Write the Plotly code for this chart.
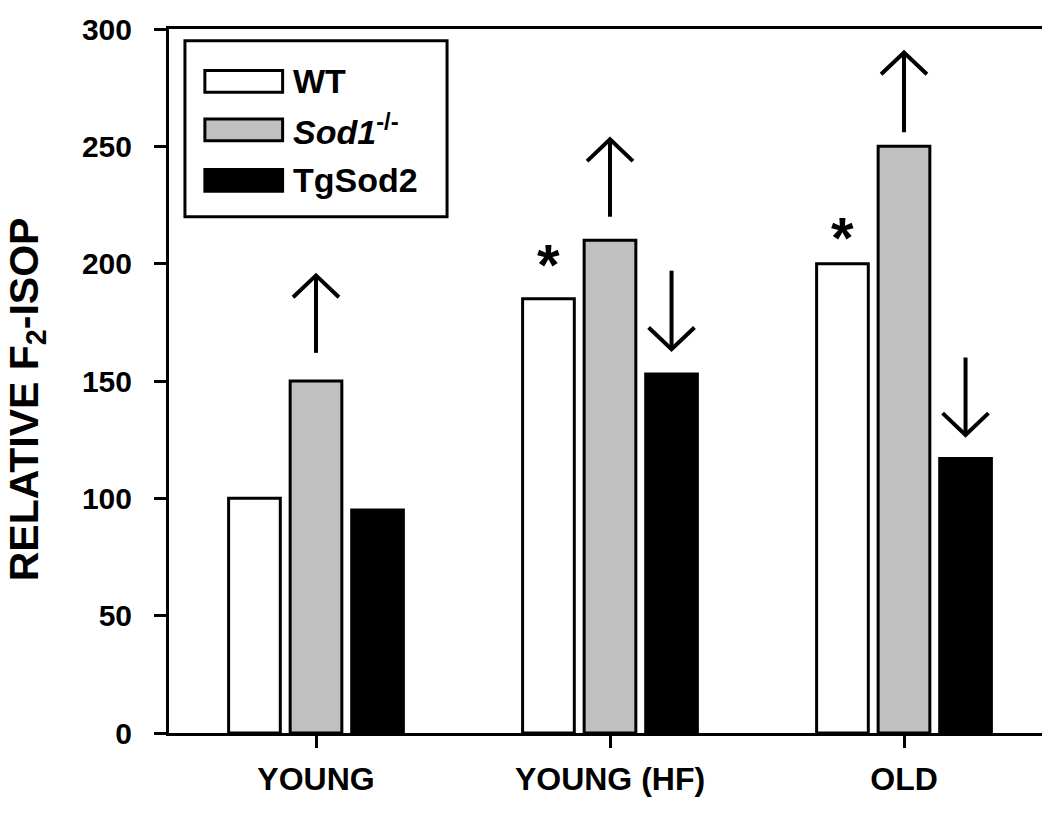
import plotly.graph_objects as go

# ---------------- data ----------------
categories = ["YOUNG", "YOUNG (HF)", "OLD"]
wt = [100, 185, 200]
sod1 = [150, 210, 250]
tgsod2 = [95, 153, 117]
y_ticks = [0, 50, 100, 150, 200, 250, 300]
series_names = ["WT", "<i>Sod1</i><sup>-/-</sup>", "TgSod2"]

# significance stars above WT bars (category index, y value)
star_cat = [1, 2]
star_y = [199.5, 211]

# arrows: up arrows above Sod1 bars, down arrows above TgSod2 bars
up_cat = [0, 1, 2]
up_from = [162, 220, 256]
up_to = [195, 253, 290]
down_cat = [1, 2]
down_from = [197, 160]
down_to = [163.5, 127]

# ---------------- styling ----------------
FONT = "Liberation Sans, Arial, sans-serif"
fills = ["#ffffff", "#c0c0c0", "#000000"]
BARGAP = 0.372
slot = (1 - BARGAP) / 3
offsets = [-slot, 0, slot]
x_idx = list(range(len(categories)))

fig = go.Figure()
for name, vals, fill in zip(series_names, [wt, sod1, tgsod2], fills):
    fig.add_trace(go.Bar(
        x=x_idx, y=vals, name=name,
        marker=dict(color=fill, line=dict(color="black", width=3)),
        showlegend=False,
    ))

shapes = []
AW = 0.078   # arrow head half width (category units)
AH = 9.3     # arrow head height (y units)
LW = 4


def arrow(xc, y0, y1):
    d = 1 if y1 > y0 else -1
    shapes.append(dict(type="line", x0=xc, x1=xc, y0=y0, y1=y1,
                       line=dict(color="black", width=LW)))
    shapes.append(dict(type="path",
                       path=f"M {xc-AW},{y1-d*AH} L {xc},{y1} L {xc+AW},{y1-d*AH}",
                       line=dict(color="black", width=LW)))


for c, a, b in zip(up_cat, up_from, up_to):
    arrow(c + offsets[1], a, b)
for c, a, b in zip(down_cat, down_from, down_to):
    arrow(c + offsets[2], a, b)

annotations = []
for c, yv in zip(star_cat, star_y):
    annotations.append(dict(x=c + offsets[0], y=yv, xref="x", yref="y",
                            text="<b>*</b>", showarrow=False,
                            font=dict(family=FONT, size=58, color="black"),
                            xanchor="center", yanchor="middle"))

# ---------------- custom legend (paper coords) ----------------
PL, PW, PB, PH = 161, 885, 725, 712


def px_x(p):
    return (p - PL) / PW


def px_y(p):
    return (PB - p) / PH


shapes.append(dict(type="rect", xref="paper", yref="paper",
                   x0=px_x(177), x1=px_x(440), y0=px_y(203), y1=px_y(25),
                   line=dict(color="black", width=3), fillcolor="white"))
row_centers = [66, 115, 166]
for name, fill, rc in zip(series_names, fills, row_centers):
    shapes.append(dict(type="rect", xref="paper", yref="paper",
                       x0=px_x(197), x1=px_x(275), y0=px_y(rc + 11), y1=px_y(rc - 11),
                       line=dict(color="black", width=3), fillcolor=fill))
    annotations.append(dict(x=px_x(283), y=px_y(rc), xref="paper", yref="paper",
                            text=f"<b>{name}</b>", showarrow=False,
                            font=dict(family=FONT, size=34, color="black"),
                            xanchor="left", yanchor="middle"))

# y-axis title
annotations.append(dict(x=px_x(18), y=px_y(387), xref="paper", yref="paper",
                        text="<b>RELATIVE F<sub>2</sub>-ISOP</b>", showarrow=False,
                        textangle=-90,
                        font=dict(family=FONT, size=41, color="black"),
                        xanchor="center", yanchor="middle"))

fig.update_layout(
    width=1050, height=832,
    margin=dict(l=161, r=4, t=13, b=107),
    paper_bgcolor="white", plot_bgcolor="white",
    barmode="group", bargap=BARGAP, bargroupgap=0.16,
    shapes=shapes, annotations=annotations,
    font=dict(family=FONT, color="black"),
)
fig.update_xaxes(
    range=[-0.5, 2.5], tickmode="array", tickvals=x_idx, ticktext=categories,
    showline=True, linecolor="black", linewidth=3, mirror=True,
    ticks="outside", ticklen=12, tickwidth=3, tickcolor="black",
    showgrid=False, zeroline=False,
    tickfont=dict(family=FONT, size=32, color="black", weight="bold"),
    ticklabelstandoff=4,
)
fig.update_yaxes(
    range=[0, 300], tickmode="array", tickvals=y_ticks,
    showline=True, linecolor="black", linewidth=3, mirror=True,
    ticks="outside", ticklen=12, tickwidth=3, tickcolor="black",
    showgrid=False, zeroline=False,
    tickfont=dict(family=FONT, size=30, color="black", weight="bold"),
    ticklabelstandoff=16, ticklabeloverflow="allow",
)

fig.write_html("out.html")
